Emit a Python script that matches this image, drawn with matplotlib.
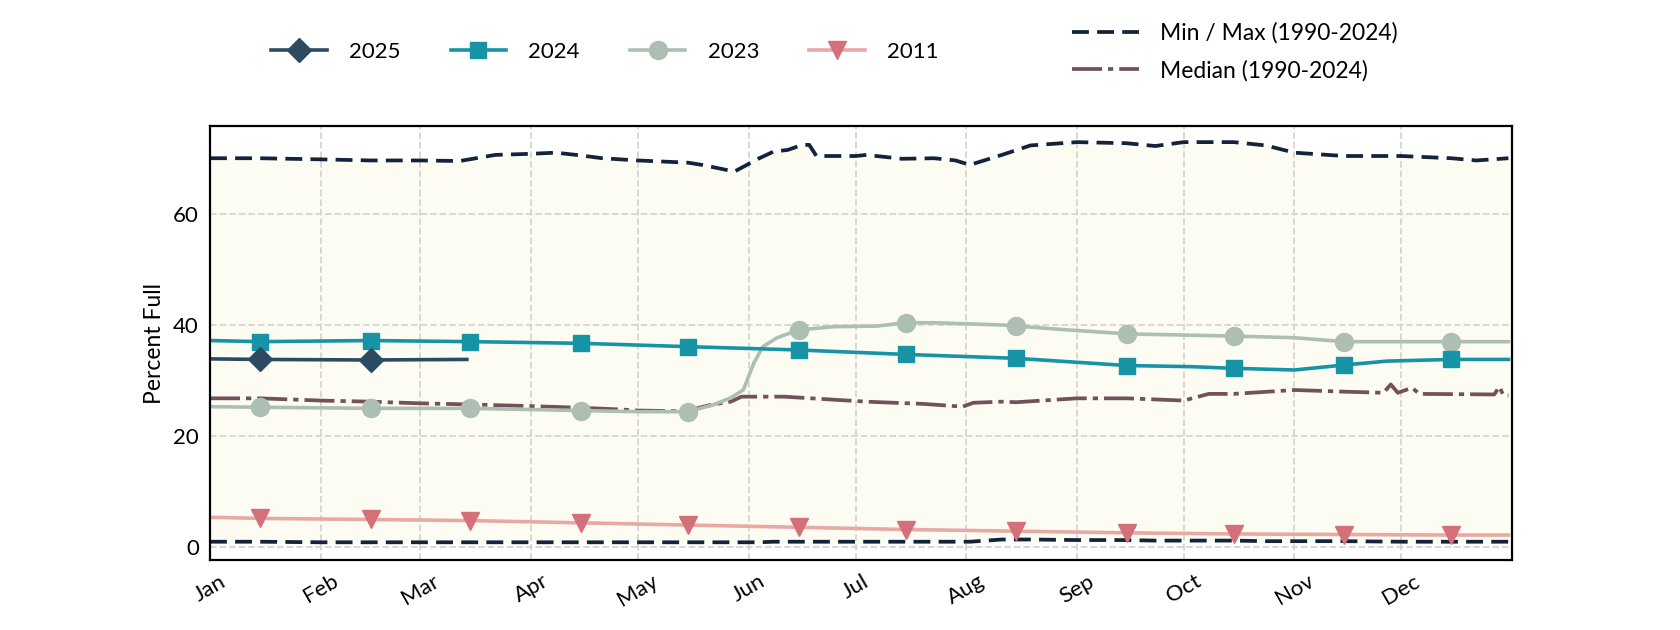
import numpy as np
import matplotlib
matplotlib.use("Agg")
import matplotlib.pyplot as plt
import matplotlib.transforms as mtransforms

plt.rcParams['font.family'] = ['Lato', 'DejaVu Sans']

# day of year (0 = Jan 1)
month_starts = [0, 31, 59, 90, 120, 151, 181, 212, 243, 273, 304, 334]
month_labels = ['Jan', 'Feb', 'Mar', 'Apr', 'May', 'Jun', 'Jul', 'Aug', 'Sep', 'Oct', 'Nov', 'Dec']
mid_month = [14, 45, 73, 104, 134, 165, 195, 226, 257, 287, 318, 348]

days_mm = [0, 14, 31, 45, 59, 70, 80, 90, 97, 104, 110, 120, 134, 138, 147, 154, 158, 162,
           166, 168, 170, 181, 184, 194, 203, 209, 213, 222, 230, 243, 257, 265, 273, 287,
           296, 304, 318, 334, 348, 355, 364]
max_vals = [70.0, 70.0, 69.8, 69.6, 69.6, 69.5, 70.6, 70.8, 71.0, 70.5, 70.0, 69.6, 69.2,
            68.8, 67.6, 70.0, 71.2, 71.5, 72.4, 72.4, 70.4, 70.4, 70.6, 69.9, 70.0, 69.6,
            68.8, 70.6, 72.3, 72.9, 72.7, 72.2, 72.9, 72.9, 72.3, 71.0, 70.4, 70.4, 70.0,
            69.6, 70.0]
min_vals = [1.0, 1.0, 0.9, 0.9, 0.9, 0.9, 0.9, 0.9, 0.9, 0.9, 0.9, 0.9, 0.9, 0.9, 0.9,
            0.9, 1.0, 1.0, 1.0, 1.0, 1.0, 1.0, 1.0, 1.0, 1.0, 1.0, 1.0, 1.4, 1.4, 1.3, 1.3,
            1.2, 1.2, 1.2, 1.1, 1.1, 1.1, 1.0, 1.0, 1.0, 1.0]

days_med = [0, 14, 31, 45, 59, 73, 90, 104, 115, 120, 130, 134, 137, 141, 146, 149, 161,
            184, 200, 211, 214, 222, 226, 243, 257, 273, 280, 287, 304, 318, 329, 331, 333,
            337, 339, 360, 361.5, 362.5, 364]
med_vals = [26.8, 26.8, 26.4, 26.2, 25.9, 25.7, 25.4, 25.1, 24.8, 24.6, 24.5, 24.4, 25.1,
            25.7, 26.2, 27.1, 27.1, 26.2, 25.8, 25.3, 26.0, 26.2, 26.1, 26.8, 26.8, 26.4,
            27.6, 27.6, 28.3, 28.0, 27.8, 29.3, 27.8, 28.7, 27.6, 27.5, 28.9, 27.4, 27.3]

days_2025 = [0, 14, 45, 72]
vals_2025 = [33.9, 33.8, 33.7, 33.8]

days_2024 = [0, 14, 45, 73, 104, 134, 165, 195, 226, 257, 275, 287, 304, 318, 330, 348, 364]
vals_2024 = [37.2, 37.0, 37.2, 37.0, 36.7, 36.1, 35.5, 34.7, 34.0, 32.7, 32.5, 32.2, 31.9,
             32.8, 33.5, 33.8, 33.8]

days_2023 = [0, 14, 45, 73, 104, 120, 134, 141, 146, 149.5, 152.5, 155, 159, 165, 175, 187,
             195, 203, 222, 226, 243, 257, 287, 304, 318, 348, 364]
vals_2023 = [25.3, 25.2, 25.0, 25.0, 24.6, 24.4, 24.4, 25.6, 26.9, 28.3, 33.2, 36.1, 37.7,
             39.1, 39.7, 39.8, 40.4, 40.4, 40.0, 39.8, 39.0, 38.4, 38.0, 37.7, 37.0, 37.0, 37.0]

days_2011 = [0, 14, 45, 73, 104, 134, 165, 195, 226, 257, 287, 318, 348, 364]
vals_2011 = [5.4, 5.2, 5.0, 4.8, 4.4, 4.0, 3.6, 3.2, 2.9, 2.6, 2.4, 2.3, 2.2, 2.2]


def marks(days):
    return [i for i, d in enumerate(days) if d in mid_month]


fig = plt.figure(figsize=(16.8, 6.3), dpi=100)
ax = fig.add_axes([0.125, 0.111, 0.775, 0.689])

ax.fill_between(days_mm, min_vals, max_vals, color='#fcfcf3', zorder=0.2, lw=0)
mm_line, = ax.plot(days_mm, max_vals, color='#13233a', lw=2.7, ls=(0, (4.5, 2.2)),
                   label='Min / Max (1990-2024)')
ax.plot(days_mm, min_vals, color='#13233a', lw=2.7, ls=(0, (4.5, 2.2)))
med_line, = ax.plot(days_med, med_vals, color='#73515a', lw=2.7, ls=(0, (8, 1.6, 1.4, 1.6)),
                    label='Median (1990-2024)')

l11, = ax.plot(days_2011, vals_2011, color='#e8a8a4', lw=2.6, marker='v', ms=13,
               mfc='#d4707a', mec='#d4707a', markevery=marks(days_2011), label='2011')
l23, = ax.plot(days_2023, vals_2023, color='#adbfb2', lw=2.6, marker='o', ms=13,
               markevery=marks(days_2023), label='2023')
l24, = ax.plot(days_2024, vals_2024, color='#1793a6', lw=2.6, marker='s', ms=12,
               markevery=marks(days_2024), label='2024')
l25, = ax.plot(days_2025, vals_2025, color='#2d4a63', lw=2.6, marker='D', ms=12,
               markevery=[1, 2], label='2025')

ax.set_xlim(0, 365)
ax.set_ylim(-2.3, 75.8)
ax.set_xticks(month_starts)
ax.set_xticklabels(month_labels, rotation=30, ha='center', fontsize=16)
shift = mtransforms.ScaledTranslation(8 / 100, 0, fig.dpi_scale_trans)
for lab in ax.get_xticklabels():
    lab.set_transform(lab.get_transform() + shift)
ax.set_yticks([0, 20, 40, 60])
ax.tick_params(axis='y', labelsize=16, length=0, pad=8)
ax.tick_params(axis='x', length=0, pad=8)
ax.set_ylabel('Percent Full', fontsize=16.5, labelpad=6)
ax.grid(True, color='#d6d6d0', ls='--', lw=1.3)
ax.set_axisbelow(True)
for s in ax.spines.values():
    s.set_linewidth(1.6)
    s.set_color('black')

fig.legend(handles=[l25, l24, l23, l11], loc='center left', bbox_to_anchor=(0.1496, 0.918),
           ncol=4, frameon=False, fontsize=16, handlelength=2.5, columnspacing=2.25,
           handletextpad=1.0)
fig.legend(handles=[mm_line, med_line], loc='center left', bbox_to_anchor=(0.6256, 0.918),
           frameon=False, fontsize=16.5, handlelength=2.95, handletextpad=0.9, labelspacing=0.7)

fig.savefig('out.png', dpi=100)
